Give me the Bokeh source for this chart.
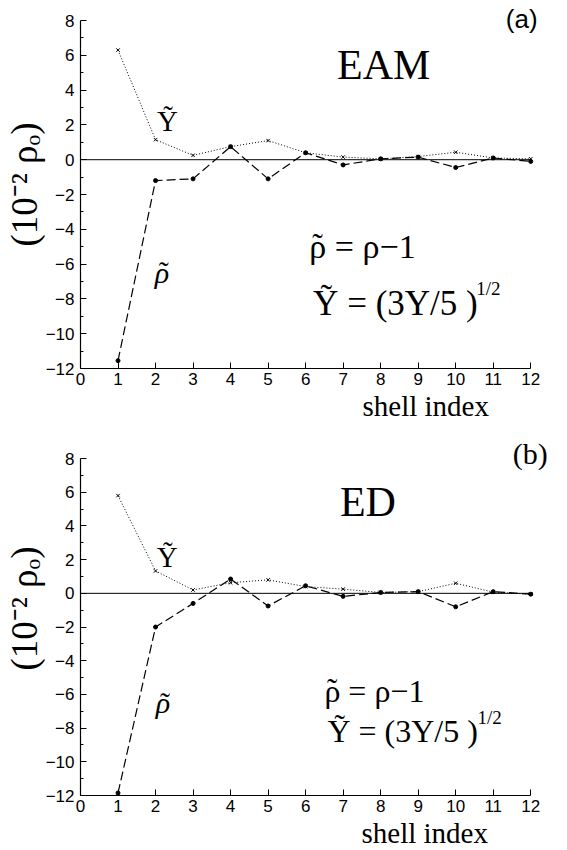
from bokeh.plotting import figure
from bokeh.layouts import column
from bokeh.models import Label, Range1d, FixedTicker, Title
from bokeh.embed import file_html
from bokeh.resources import INLINE

# ---------------- data ----------------
shells = [1, 2, 3, 4, 5, 6, 7, 8, 9, 10, 11, 12]
xticks = [0, 1, 2, 3, 4, 5, 6, 7, 8, 9, 10, 11, 12]
yticks = [-12, -10, -8, -6, -4, -2, 0, 2, 4, 6, 8]
yminor = [-11, -9, -7, -5, -3, -1, 1, 3, 5, 7]

eam_Y = [6.3, 1.15, 0.25, 0.75, 1.1, 0.4, 0.15, 0.05, 0.18, 0.43, 0.1, 0.05]
eam_rho = [-11.55, -1.2, -1.1, 0.75, -1.1, 0.4, -0.3, 0.05, 0.15, -0.45, 0.1, -0.1]

ed_Y = [5.8, 1.33, 0.2, 0.63, 0.8, 0.4, 0.25, 0.05, 0.1, 0.6, 0.07, -0.05]
ed_rho = [-11.85, -2.0, -0.6, 0.85, -0.75, 0.45, -0.18, 0.05, 0.1, -0.8, 0.1, -0.05]

SERIF = "Liberation Serif"
SANS = "Liberation Sans"
TILDE = "\u02dc"


def make_panel(Yv, rv, ytop, border_left, border_top, frame_h, border_bottom,
               texts, xlabel_offset):
    p = figure(frame_width=469, frame_height=frame_h,
               min_border_left=border_left, min_border_right=2,
               min_border_top=border_top, min_border_bottom=border_bottom,
               x_range=Range1d(0, 12.5), y_range=Range1d(-12, ytop),
               output_backend="svg", toolbar_location=None)
    p.outline_line_color = None
    p.xgrid.visible = False
    p.ygrid.visible = False

    p.xaxis.bounds = (xticks[0], xticks[-1])
    p.yaxis.bounds = (yticks[0], yticks[-1])
    p.xaxis.ticker = FixedTicker(ticks=xticks)
    p.yaxis.ticker = FixedTicker(ticks=yticks, minor_ticks=yminor)
    for ax in (p.xaxis, p.yaxis):
        ax.axis_line_color = "black"
        ax.axis_line_width = 1.2
        ax.major_tick_in = 6
        ax.major_tick_out = 0
        ax.minor_tick_in = 3
        ax.minor_tick_out = 0
        ax.major_tick_line_color = "black"
        ax.minor_tick_line_color = "black"
        ax.major_label_text_font = SANS
        ax.major_label_text_font_size = "17px"
        ax.major_label_text_color = "black"
    p.xaxis.major_label_standoff = 4
    p.yaxis.major_label_standoff = 6
    p.xaxis.minor_tick_line_color = None
    p.yaxis.major_label_overrides = {v: str(v).replace("-", "\u2212") for v in yticks}
    p.yaxis.axis_label = "(10\u207b\u00b2 \u03c1\u2092)"
    p.yaxis.axis_label_text_font = SERIF
    p.yaxis.axis_label_text_font_style = "normal"
    p.yaxis.axis_label_text_font_size = "37px"
    p.yaxis.axis_label_text_color = "black"
    p.yaxis.axis_label_standoff = -2

    p.add_layout(Title(text="shell index", align="left", offset=xlabel_offset,
                       text_font=SERIF, text_font_size="29px", text_font_style="normal",
                       text_color="black", standoff=0, text_line_height=0.9), "below")

    # zero line
    p.line([xticks[0], xticks[-1]], [0, 0], line_color="black", line_width=1)

    # series
    p.line(shells, Yv, line_color="black", line_width=1, line_dash="1 2")
    p.scatter(shells, Yv, marker="x", size=5, line_color="black", line_width=1)
    p.line(shells, rv, line_color="black", line_width=1.2, line_dash="9 4")
    p.scatter(shells, rv, marker="circle", size=4, fill_color="black", line_color="black")

    for (tx, ty, s, font, size, style, align, base) in texts:
        p.add_layout(Label(x=tx, y=ty, text=s, text_font=font, text_font_size=size,
                           text_font_style=style, text_align=align, text_baseline=base,
                           text_color="black"))
    return p


top_texts = [
    (11.76, 8.09, "(a)", SANS, "26px", "normal", "center", "middle"),
    (8.08, 5.43, "EAM", SERIF, "42px", "normal", "center", "middle"),
    (2.32, 2.25, "\u1ef8", SERIF, "29px", "normal", "center", "alphabetic"),
    (2.17, -6.5, "\u03c1", SERIF, "30px", "italic", "center", "alphabetic"),
    (2.22, -6.45, TILDE, SERIF, "30px", "normal", "center", "alphabetic"),
    (6.1, -4.97, "\u03c1 = \u03c1\u22121", SERIF, "34px", "normal", "left", "alphabetic"),
    (6.32, -4.85, TILDE, SERIF, "32px", "normal", "center", "alphabetic"),
    (6.2, -8.27, "\u1ef8 = (3Y/5 )", SERIF, "35px", "normal", "left", "alphabetic"),
    (10.55, -7.4, "1/2", SERIF, "19px", "normal", "left", "alphabetic"),
]

bot_texts = [
    (12.45, 8.29, "(b)", SERIF, "30px", "normal", "right", "middle"),
    (7.66, 5.4, "ED", SERIF, "42px", "normal", "center", "middle"),
    (2.31, 2.18, "\u1ef8", SERIF, "29px", "normal", "center", "alphabetic"),
    (2.2, -6.5, "\u03c1", SERIF, "30px", "italic", "center", "alphabetic"),
    (2.25, -6.45, TILDE, SERIF, "30px", "normal", "center", "alphabetic"),
    (6.5, -5.8, "\u03c1 = \u03c1\u22121", SERIF, "32px", "normal", "left", "alphabetic"),
    (6.71, -5.68, TILDE, SERIF, "31px", "normal", "center", "alphabetic"),
    (6.58, -8.16, "\u1ef8 = (3Y/5 )", SERIF, "32px", "normal", "left", "alphabetic"),
    (10.58, -7.35, "1/2", SERIF, "19px", "normal", "left", "alphabetic"),
]

p1 = make_panel(eam_Y, eam_rho, 9.15, 78, 0, 368, 47, top_texts, 282)
p2 = make_panel(ed_Y, ed_rho, 10.2, 80, 0, 374, 45, bot_texts, 281)

layout = column(p1, p2, spacing=0)
open("out.html", "w").write(file_html(layout, INLINE))
